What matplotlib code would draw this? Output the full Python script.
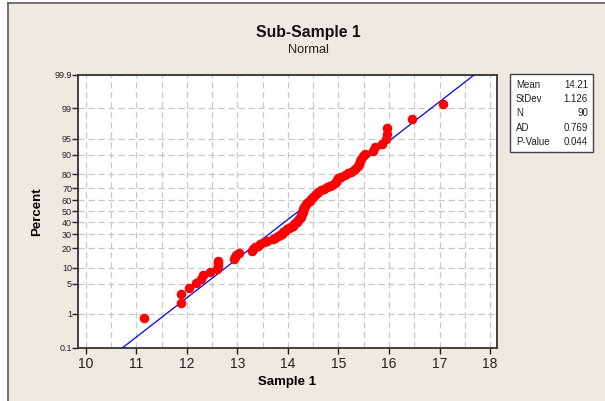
import numpy as np
import matplotlib
matplotlib.use('Agg')
import matplotlib.pyplot as plt
from matplotlib.patches import Rectangle
from matplotlib.lines import Line2D
from statistics import NormalDist

plt.rcParams['font.family'] = ['Liberation Sans', 'DejaVu Sans']

# 排序后的样本值 (N = 90)
sample_1 = [
    11.15, 11.88, 11.88, 12.04, 12.18, 12.28, 12.33, 12.45, 12.60, 12.61,
    12.62, 12.62, 12.93, 12.95, 12.98, 13.03, 13.28, 13.30, 13.35, 13.40,
    13.45, 13.52, 13.58, 13.70, 13.74, 13.80, 13.84, 13.88, 13.91, 13.95,
    13.98, 14.02, 14.06, 14.10, 14.12, 14.15, 14.18, 14.20, 14.22, 14.23,
    14.25, 14.26, 14.27, 14.28, 14.29, 14.30, 14.30, 14.31, 14.32, 14.33,
    14.35, 14.38, 14.40, 14.44, 14.46, 14.48, 14.50, 14.52, 14.55, 14.57,
    14.60, 14.65, 14.72, 14.78, 14.84, 14.88, 14.94, 14.96, 14.98, 15.00,
    15.05, 15.12, 15.18, 15.24, 15.30, 15.35, 15.38, 15.41, 15.43, 15.45,
    15.49, 15.52, 15.68, 15.72, 15.86, 15.95, 15.96, 15.96, 16.45, 17.07,
]

# 拟合参数与统计框
fit_mean = 14.21
fit_sd = 1.126
stat_names = ['Mean', 'StDev', 'N', 'AD', 'P-Value']
stat_values = ['14.21', '1.126', '90', '0.769', '0.044']

percent_ticks = [0.1, 1, 5, 10, 20, 30, 40, 50, 60, 70, 80, 90, 95, 99, 99.9]
percent_labels = ['0.1', '1', '5', '10', '20', '30', '40', '50', '60', '70',
                  '80', '90', '95', '99', '99.9']
x_ticks = [10, 11, 12, 13, 14, 15, 16, 17, 18]

nd = NormalDist()
_ppf = np.vectorize(lambda p: nd.inv_cdf(min(max(p / 100.0, 1e-12), 1 - 1e-12)),
                    otypes=[float])
_cdf = np.vectorize(lambda z: nd.cdf(z) * 100.0, otypes=[float])


def fwd(p):
    return _ppf(np.asarray(p, dtype=float))


def inv(z):
    return _cdf(np.asarray(z, dtype=float))


# 中位秩 (Benard) 绘图位置
n = len(sample_1)
ranks = np.arange(1, n + 1)
percents = (ranks - 0.3) / (n + 0.4) * 100

W, H = 605, 401
fig = plt.figure(figsize=(W / 100, H / 100), dpi=100, facecolor='white')

# 米色背景，外框只露出左边和上边
bg = Rectangle((8 / W, 0), 1, 1 - 3 / H, transform=fig.transFigure,
               facecolor='#eeeae1', edgecolor='none', zorder=-10)
fig.add_artist(bg)
fig.add_artist(Line2D([8 / W, 8 / W], [0, 1 - 3 / H], color='#5a5a5a', linewidth=1.2))
fig.add_artist(Line2D([8 / W, 1], [1 - 3 / H, 1 - 3 / H], color='#5a5a5a', linewidth=1.2))

ax = fig.add_axes([78.3 / W, 1 - 347.7 / H, (496.7 - 78.3) / W, (347.7 - 74.7) / H])
ax.set_facecolor('white')
ax.set_yscale('function', functions=(fwd, inv))
ax.set_ylim(0.1, 99.9)
ax.set_xlim(9.854, 18.13)

ax.set_yticks(percent_ticks)
ax.set_yticklabels(percent_labels)
ax.set_xticks(x_ticks)
ax.set_xticks(np.arange(10.5, 18, 1.0), minor=True)
ax.yaxis.set_minor_locator(matplotlib.ticker.NullLocator())

ax.grid(True, which='both', axis='x', color='#c8c8c8', linestyle=(0, (5, 3)), linewidth=0.9)
ax.grid(True, which='major', axis='y', color='#c8c8c8', linestyle=(0, (5, 3)), linewidth=0.9)
ax.set_axisbelow(True)

ax.tick_params(axis='x', which='major', labelsize=10, length=4, width=1, pad=3, colors='#222222')
ax.tick_params(axis='x', which='minor', length=0)
ax.tick_params(axis='y', labelsize=6.5, length=4, width=1, pad=0.5, colors='#222222')
for s in ax.spines.values():
    s.set_color('#333333')
    s.set_linewidth(1.3)

# 拟合直线
line_p = np.array([0.05, 99.95])
line_x = fit_mean + fit_sd * fwd(line_p)
ax.plot(line_x, line_p, color='#0000ff', linewidth=0.9, zorder=3)

ax.plot(sample_1, percents, 'o', color='#ff0000', markersize=6.9,
        markeredgewidth=0, zorder=4)

ax.set_xlabel('Sample 1', fontsize=9.5, fontweight='bold', labelpad=3)
ax.set_ylabel('Percent', fontsize=9.5, fontweight='bold', labelpad=8)

fig.text(308 / W, 1 - 33 / H, 'Sub-Sample 1', ha='center', va='center',
         fontsize=11.3, fontweight='bold', color='#111111')
fig.text(308 / W, 1 - 50 / H, 'Normal', ha='center', va='center',
         fontsize=9.2, color='#222222')

# 统计框
box = Rectangle((510 / W, 1 - 152 / H), 83 / W, 78 / H, transform=fig.transFigure,
                facecolor='white', edgecolor='#444444', linewidth=1.0)
fig.add_artist(box)
for k, (name, val) in enumerate(zip(stat_names, stat_values)):
    yy = 1 - (85 + k * 14.2) / H
    fig.text(516 / W, yy, name, ha='left', va='center', fontsize=7, color='#222222')
    fig.text(588 / W, yy, val, ha='right', va='center', fontsize=7, color='#222222')

fig.savefig('out.png', dpi=100, facecolor=fig.get_facecolor())
